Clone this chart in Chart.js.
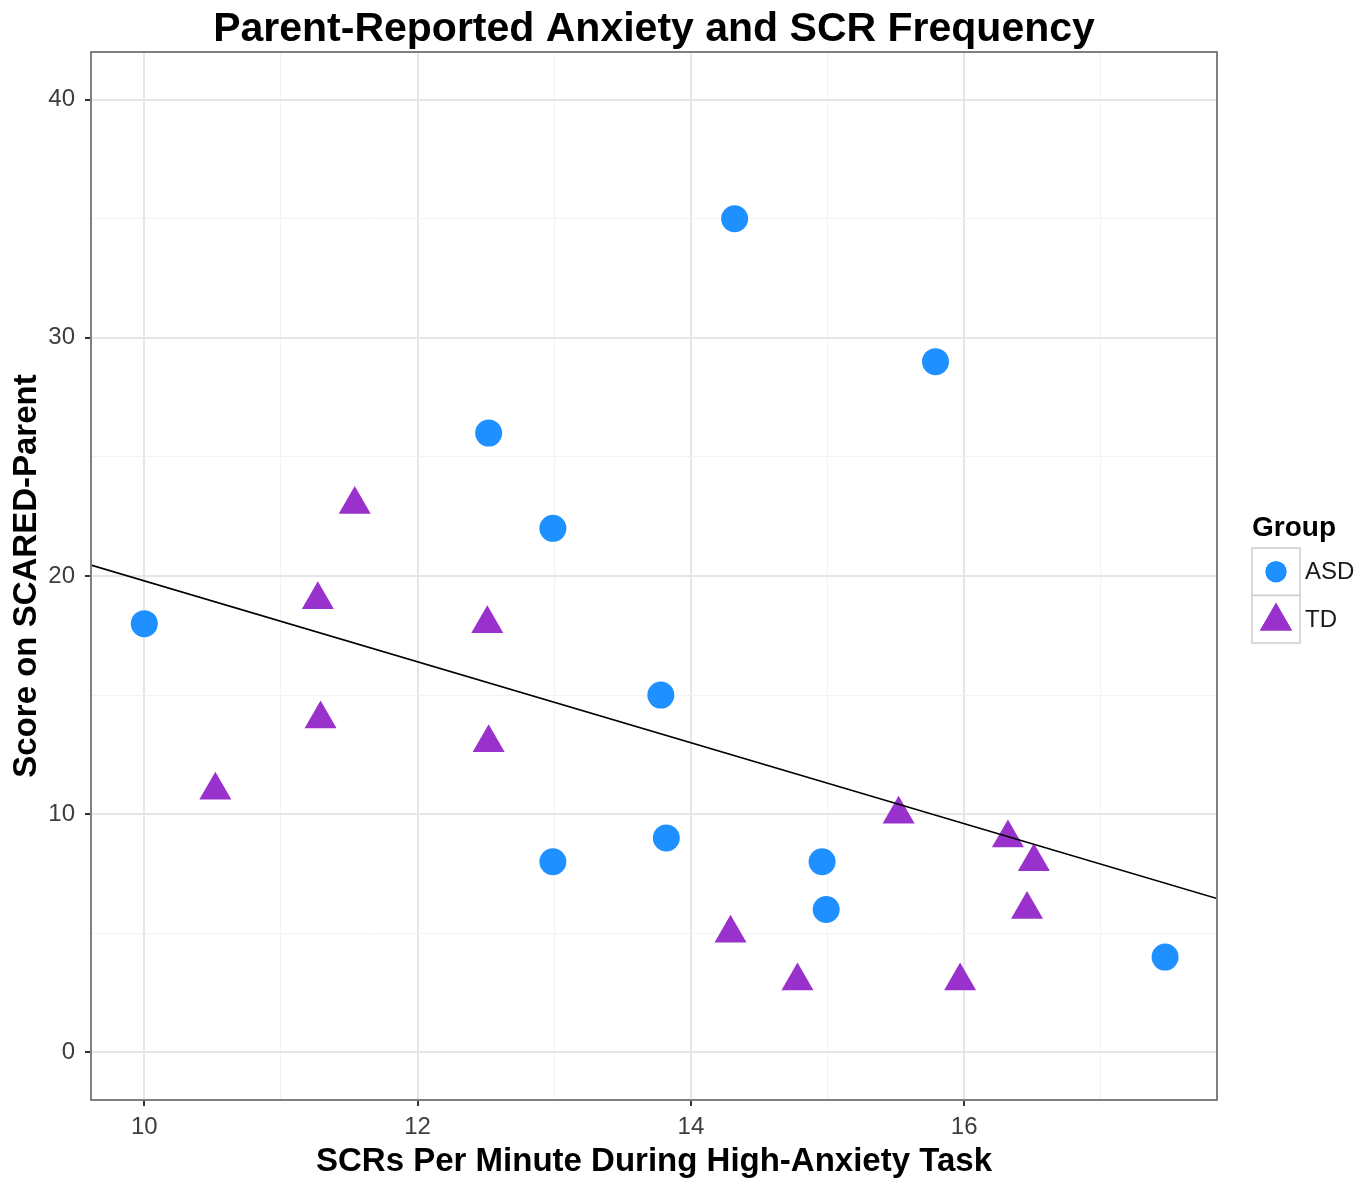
<!DOCTYPE html>
<html>
<head>
<meta charset="utf-8">
<title>Parent-Reported Anxiety and SCR Frequency</title>
<script src="https://cdn.jsdelivr.net/npm/chart.js@4.4.1/dist/chart.umd.min.js"></script>
<style>
  html, body { margin: 0; padding: 0; background: #ffffff; }
  #c { display: block; }
</style>
</head>
<body>
<canvas id="c" width="1371" height="1186"></canvas>
<script>
// Group labels
const groups = ['ASD', 'TD'];

// ASD group: SCRs per minute vs SCARED-Parent score
const asdX = [10.0, 12.52, 12.99, 14.32, 15.79, 13.78, 13.82, 12.99, 14.96, 14.99, 17.47];
const asdY = [18, 26, 22, 35, 29, 15, 9, 8, 8, 6, 4];

// TD group
const tdX = [11.54, 11.27, 11.29, 10.52, 12.51, 12.52, 15.52, 16.32, 16.51, 16.46, 14.29, 14.78, 15.97];
const tdY = [23, 19, 14, 11, 18, 13, 10, 9, 8, 6, 5, 3, 3];

// Linear fit across all children (end points over the x range)
const fitX = [9.61, 17.85];
const fitY = [20.46, 6.46];

// Axis ticks
const xTicks = [10, 12, 14, 16];
const xMinor = [11, 13, 15, 17];
const yTicks = [0, 10, 20, 30, 40];
const yMinor = [5, 15, 25, 35];

const titleText = 'Parent-Reported Anxiety and SCR Frequency';
const xTitle = 'SCRs Per Minute During High-Anxiety Task';
const yTitle = 'Score on SCARED-Parent';
const legendTitle = 'Group';

const FONT = "'Liberation Sans', Arial, sans-serif";
const colors = { ASD: '#1E90FF', TD: '#9932CC' };
const styles = { ASD: 'circle', TD: 'triangle' };
const radii = { ASD: 13.5, TD: 18.5 };

const toPts = (xs, ys) => xs.map((x, i) => ({ x: x, y: ys[i] }));

function tickList(major, minor) {
  return major.concat(minor).sort((a, b) => a - b).map(v => ({ value: v }));
}

// Title, panel border and legend drawn on top of the chart
const decorations = {
  id: 'decorations',
  afterDatasetsDraw(chart) {
    const { ctx, chartArea: a } = chart;
    ctx.save();
    ctx.strokeStyle = '#808080';
    ctx.lineWidth = 2;
    ctx.strokeRect(a.left, a.top, a.right - a.left, a.bottom - a.top);
    ctx.restore();
  },
  afterDraw(chart) {
    const { ctx, chartArea: a } = chart;
    ctx.save();
    // plot title
    ctx.fillStyle = '#000000';
    ctx.font = 'bold 41px ' + FONT;
    ctx.textAlign = 'center';
    ctx.textBaseline = 'alphabetic';
    ctx.fillText(titleText, (a.left + a.right) / 2, 41);

    // legend
    const lx = 1252, keyW = 48, keyH = 47.5, top = 548;
    ctx.textAlign = 'left';
    ctx.font = 'bold 28px ' + FONT;
    ctx.fillText(legendTitle, lx, 536);
    groups.forEach((g, i) => {
      const y0 = top + i * keyH;
      ctx.fillStyle = '#ffffff';
      ctx.fillRect(lx, y0, keyW, keyH);
      ctx.strokeStyle = '#cccccc';
      ctx.lineWidth = 1.5;
      ctx.strokeRect(lx, y0, keyW, keyH);
      const cy = y0 + keyH / 2 + (styles[g] === 'triangle' ? 2 : 0);
      ctx.fillStyle = colors[g];
      Chart.helpers.drawPoint(ctx, {
        pointStyle: styles[g],
        radius: styles[g] === 'circle' ? 10.5 : 18.5,
        borderWidth: 0,
        rotation: 0
      }, lx + keyW / 2, cy);
      ctx.fill();
      ctx.fillStyle = '#1a1a1a';
      ctx.font = '24px ' + FONT;
      ctx.textBaseline = 'middle';
      ctx.fillText(g, lx + keyW + 5, y0 + keyH / 2 + 1);
      ctx.textBaseline = 'alphabetic';
    });
    ctx.restore();
  }
};

const pointSet = (g, xs, ys) => ({
  type: 'scatter',
  label: g,
  data: toPts(xs, ys),
  pointStyle: styles[g],
  pointRadius: radii[g],
  pointHoverRadius: radii[g],
  pointBackgroundColor: colors[g],
  pointBorderWidth: 0,
  borderColor: colors[g],
  showLine: false
});

new Chart(document.getElementById('c'), {
  data: {
    datasets: [
      {
        type: 'line',
        label: 'fit',
        data: toPts(fitX, fitY),
        borderColor: '#000000',
        borderWidth: 1.6,
        pointRadius: 0,
        fill: false,
        tension: 0
      },
      pointSet(groups[0], asdX, asdY),
      pointSet(groups[1], tdX, tdY)
    ]
  },
  options: {
    responsive: false,
    animation: false,
    layout: { padding: { top: 52, right: 154, left: 0, bottom: 0 } },
    plugins: {
      legend: { display: false },
      title: { display: false },
      tooltip: { enabled: false }
    },
    scales: {
      x: {
        type: 'linear',
        min: 9.61,
        max: 17.85,
        afterBuildTicks: s => { s.ticks = tickList(xTicks, xMinor); },
        afterFit: s => { s.height = 86; },
        border: { display: false },
        grid: {
          color: c => xTicks.includes(c.tick.value) ? '#e6e6e6' : '#f3f3f3',
          lineWidth: c => xTicks.includes(c.tick.value) ? 2 : 1,
          tickColor: c => xTicks.includes(c.tick.value) ? '#333333' : 'rgba(0,0,0,0)',
          tickWidth: 2,
          tickLength: 6
        },
        ticks: {
          autoSkip: false,
          maxRotation: 0,
          padding: 7,
          color: '#3d3d3d',
          font: { family: FONT, size: 24 },
          callback: v => xTicks.includes(v) ? String(v) : ''
        },
        title: {
          display: true,
          text: xTitle,
          color: '#000000',
          font: { family: FONT, size: 33, weight: 'bold' },
          padding: { top: 0, bottom: 4 }
        }
      },
      y: {
        type: 'linear',
        min: -2,
        max: 42,
        afterBuildTicks: s => { s.ticks = tickList(yTicks, yMinor); },
        afterFit: s => { s.width = 91; },
        border: { display: false },
        grid: {
          color: c => yTicks.includes(c.tick.value) ? '#e6e6e6' : '#f3f3f3',
          lineWidth: c => yTicks.includes(c.tick.value) ? 2 : 1,
          tickColor: c => yTicks.includes(c.tick.value) ? '#333333' : 'rgba(0,0,0,0)',
          tickWidth: 2,
          tickLength: 6
        },
        ticks: {
          autoSkip: false,
          padding: 10,
          color: '#3d3d3d',
          font: { family: FONT, size: 24 },
          callback: v => yTicks.includes(v) ? String(v) : ''
        },
        title: {
          display: true,
          text: yTitle,
          color: '#000000',
          font: { family: FONT, size: 33, weight: 'bold' },
          padding: { top: 7, bottom: 0 }
        }
      }
    }
  },
  plugins: [decorations]
});
</script>
</body>
</html>
